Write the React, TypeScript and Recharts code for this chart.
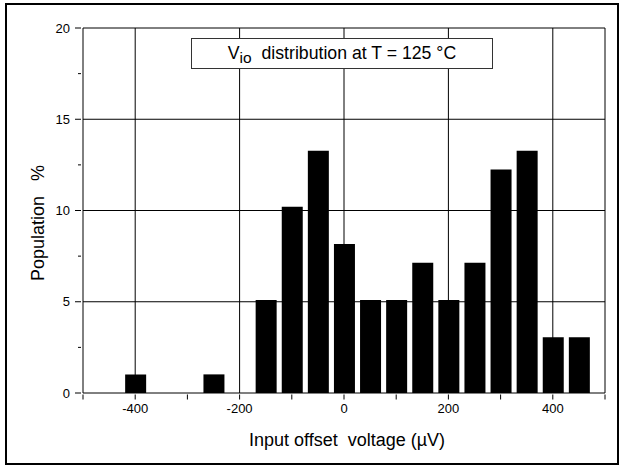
import { BarChart, Bar, XAxis, YAxis, ReferenceLine } from 'recharts'

// histogram bins (µV) and population share (%)
const binCenters = [-400, -250, -150, -100, -50, 0, 50, 100, 150, 200, 250, 300, 350, 400, 450]
const population = [1.02, 1.02, 5.1, 10.2, 13.27, 8.16, 5.1, 5.1, 7.14, 5.1, 7.14, 12.24, 13.27, 3.06, 3.06]

const xTicks = [-500, -400, -300, -200, -100, 0, 100, 200, 300, 400, 500]
const xLabelled = [-400, -200, 0, 200, 400]
const yTicks = [0, 2.5, 5, 7.5, 10, 12.5, 15, 17.5, 20]
const yLabelled = [0, 5, 10, 15, 20]
const xGrid = [-400, -200, 0, 200, 400]
const yGrid = [5, 10, 15]

const data = binCenters.map((v, i) => ({ v, p: population[i] }))

const FONT = '"Liberation Sans", Arial, sans-serif'

// x ticks: all outward 5px, label only on the majors
const XTick = ({ x, y, payload }: any) => {
  const v = payload.value
  return (
    <g>
      <line x1={x} x2={x} y1={y - 0.5} y2={y + 4.5} stroke="#000" />
      {xLabelled.includes(v) && (
        <text x={x} y={y + 18} textAnchor="middle" fontSize={13} fontFamily={FONT} fill="#000">
          {v}
        </text>
      )}
    </g>
  )
}

// y ticks: majors 6px, minors 3px
const YTick = ({ x, y, payload }: any) => {
  const v = payload.value
  const major = yLabelled.includes(v)
  return (
    <g>
      <line x1={x} x2={x - (major ? 6 : 3)} y1={y} y2={y} stroke="#000" />
      {major && (
        <text x={x - 11} y={y} dy="0.36em" textAnchor="end" fontSize={13} fontFamily={FONT} fill="#000">
          {v}
        </text>
      )}
    </g>
  )
}

export default function App() {
  return (
    <div style={{ position: 'absolute', left: 0, top: 0, width: 622, height: 465, background: '#fff', fontFamily: FONT }}>
      <div style={{ position: 'absolute', left: 5, top: 3, width: 610, height: 458, border: '2px solid #000' }} />
      <div style={{ position: 'absolute', left: 0, top: 0 }}>
        <BarChart width={622} height={465} data={data} margin={{ top: 28, right: 17, bottom: 42, left: 38 }}>
          <XAxis
            dataKey="v"
            type="number"
            domain={[-500, 500]}
            ticks={xTicks}
            allowDataOverflow
            height={30}
            tickSize={0}
            tickLine={false}
            interval={0}
            stroke="#000"
            tick={<XTick />}
          />
          <YAxis
            type="number"
            domain={[0, 20]}
            ticks={yTicks}
            width={45}
            tickSize={0}
            tickLine={false}
            interval={0}
            stroke="#000"
            tick={<YTick />}
          />
          {xGrid.map((x) => (
            <ReferenceLine key={'x' + x} x={x} stroke="#000" strokeWidth={1} />
          ))}
          {yGrid.map((y) => (
            <ReferenceLine key={'y' + y} y={y} stroke="#000" strokeWidth={1} />
          ))}
          <ReferenceLine y={20} stroke="#000" strokeWidth={1} />
          <ReferenceLine x={500} stroke="#000" strokeWidth={1} />
          <Bar dataKey="p" fill="#000" barSize={21} isAnimationActive={false} />
        </BarChart>
      </div>
      <div
        style={{
          position: 'absolute', left: 191, top: 38, width: 300, height: 29, border: '1px solid #333',
          background: '#fff', fontSize: 17.7, lineHeight: '29px', textAlign: 'center', color: '#000',
        }}
      >
        V<sub style={{ fontSize: 15.5, verticalAlign: '-4px', lineHeight: 0 }}>io</sub>&nbsp; distribution at T = 125 °C
      </div>
      <div
        style={{
          position: 'absolute', left: 38, top: 223, transform: 'translate(-50%, -50%) rotate(-90deg)',
          fontSize: 18, whiteSpace: 'pre', color: '#000',
        }}
      >
        {'Population   %'}
      </div>
      <div
        style={{
          position: 'absolute', left: 347, top: 440, transform: 'translate(-50%, -50%)',
          fontSize: 18, whiteSpace: 'pre', color: '#000',
        }}
      >
        {'Input offset  voltage (µV)'}
      </div>
    </div>
  )
}
